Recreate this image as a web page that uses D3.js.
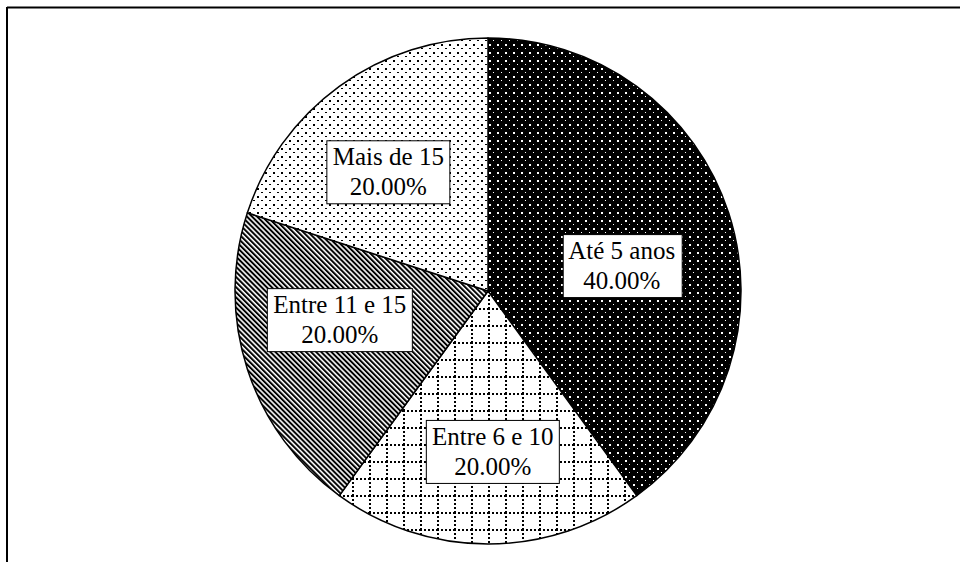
<!DOCTYPE html>
<html><head><meta charset="utf-8">
<script src="https://cdn.jsdelivr.net/npm/d3@7"></script>
<style>html,body{margin:0;padding:0;background:#fff;}svg{display:block;}</style>
</head><body>
<svg id="c" width="960" height="562"></svg>
<script>
const categories = ["Até 5 anos", "Entre 6 e 10", "Entre 11 e 15", "Mais de 15"];
const values = [40, 20, 20, 20];
const percentLabels = ["40.00%", "20.00%", "20.00%", "20.00%"];

const W = 960, H = 562;
const cx = 488, cy = 291, R = 253;
const svg = d3.select("#c");
const defs = svg.append("defs");

// pattern 0: black with white dots
const p0 = defs.append("pattern").attr("id","p0").attr("patternUnits","userSpaceOnUse").attr("width",8).attr("height",8);
p0.append("rect").attr("width",8).attr("height",8).attr("fill","#000");
p0.append("rect").attr("x",1).attr("y",1).attr("width",2).attr("height",2).attr("fill","#fff");
p0.append("rect").attr("x",5).attr("y",5).attr("width",1).attr("height",1).attr("fill","#fff");
// pattern 1: dotted grid
const p1 = defs.append("pattern").attr("id","p1").attr("patternUnits","userSpaceOnUse").attr("width",17).attr("height",17);
p1.append("rect").attr("width",17).attr("height",17).attr("fill","#fff");
p1.append("line").attr("x1",0).attr("y1",1).attr("x2",17).attr("y2",1).attr("stroke","#000").attr("stroke-width",2).attr("stroke-dasharray","2,2");
p1.append("line").attr("x1",1).attr("y1",0).attr("x2",1).attr("y2",17).attr("stroke","#000").attr("stroke-width",2).attr("stroke-dasharray","2,2");
// pattern 2: diagonal stripes
const p2 = defs.append("pattern").attr("id","p2").attr("patternUnits","userSpaceOnUse").attr("width",3.6).attr("height",4).attr("patternTransform","rotate(-45)");
p2.append("rect").attr("width",3.6).attr("height",4).attr("fill","#fff");
p2.append("rect").attr("width",2).attr("height",4).attr("fill","#000");
// pattern 3: white with black dots
const p3 = defs.append("pattern").attr("id","p3").attr("patternUnits","userSpaceOnUse").attr("width",8).attr("height",8);
p3.append("rect").attr("width",8).attr("height",8).attr("fill","#fff");
p3.append("rect").attr("x",1).attr("y",1).attr("width",2).attr("height",2).attr("fill","#000");
p3.append("rect").attr("x",5).attr("y",5).attr("width",2).attr("height",1).attr("fill","#000");

const fills = ["url(#p0)","url(#p1)","url(#p2)","url(#p3)"];

// frame
svg.append("line").attr("x1",7).attr("y1",7.5).attr("x2",W).attr("y2",7.5).attr("stroke","#000").attr("stroke-width",2);
svg.append("line").attr("x1",7).attr("y1",7).attr("x2",7).attr("y2",H).attr("stroke","#000").attr("stroke-width",2);

const pie = d3.pie().sort(null).value(d => d)(values);
const arc = d3.arc().innerRadius(0).outerRadius(R);
const g = svg.append("g").attr("transform",`translate(${cx},${cy})`);
g.selectAll("path.slice").data(pie).enter().append("path").attr("class","slice")
  .attr("d", arc).attr("fill",(d,i)=>fills[i]).attr("stroke","#000").attr("stroke-width",1.5).attr("stroke-linejoin","round");

// label placement (radius, angle shift in radians) per slice
const labelLayout = [{r:136, da:0.13},{r:161, da:-0.03},{r:151, da:0.12},{r:155, da:-0.07}];
const fs = 25, lh = 30;
pie.forEach((d,i) => {
  const a = (d.startAngle + d.endAngle)/2 + labelLayout[i].da;
  const x = labelLayout[i].r*Math.sin(a), y = -labelLayout[i].r*Math.cos(a);
  const lg = g.append("g").attr("transform",`translate(${x},${y})`);
  const rect = lg.append("rect").attr("fill","#fff").attr("stroke","#000").attr("stroke-width",1);
  const t = lg.append("text").attr("text-anchor","middle").attr("font-family","'Liberation Serif','Times New Roman',serif").attr("font-size",fs).attr("fill","#000");
  t.append("tspan").attr("x",0).attr("y",-lh/2+8).text(categories[i]);
  t.append("tspan").attr("x",0).attr("y",lh/2+8).text(percentLabels[i]);
  const bb = t.node().getBBox();
  const padX = 6;
  rect.attr("x",Math.round(bb.x-padX)+0.5).attr("y",-31.5).attr("width",Math.round(bb.width+2*padX)).attr("height",63);
});
</script>
</body></html>
